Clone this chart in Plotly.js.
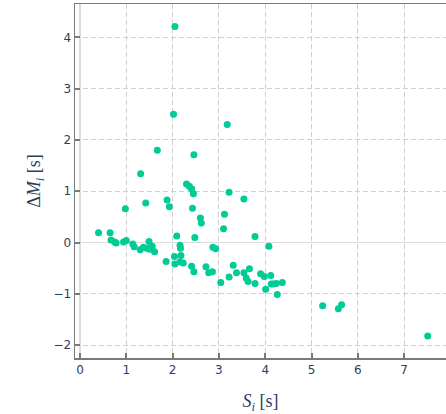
<!DOCTYPE html>
<html>
<head>
<meta charset="utf-8">
<script src="https://cdn.plot.ly/plotly-3.0.1.min.js"></script>
<style>html,body{margin:0;padding:0;background:#fff;}#chart{width:446px;height:414px;}</style>
</head>
<body>
<div id="chart"></div>
<script>
// S_i [s]
const sValues = [0.40,0.65,0.67,0.75,0.78,0.94,1.00,0.98,1.14,1.17,1.30,1.31,1.37,1.42,1.44,1.49,1.51,1.56,1.61,1.67,
  1.86,1.88,1.93,2.02,2.05,2.04,2.05,2.09,2.16,2.17,2.16,2.18,2.23,2.30,2.36,2.41,2.45,2.41,2.46,2.46,
  2.43,2.48,2.60,2.62,2.72,2.78,2.86,2.87,2.93,3.04,3.10,3.12,3.18,3.22,3.22,3.31,3.38,3.54,3.54,3.59,
  3.63,3.66,3.78,3.78,3.90,3.98,4.01,4.08,4.12,4.13,4.18,4.24,4.26,4.37,5.24,5.58,5.65,7.51];
// ΔM_i [s]
const dmValues = [0.19,0.19,0.05,0.01,-0.01,0.01,0.04,0.66,-0.03,-0.08,-0.14,1.34,-0.09,0.77,-0.11,0.02,-0.13,-0.07,-0.18,1.80,
  -0.37,0.83,0.70,2.50,4.21,-0.27,-0.42,0.13,-0.05,-0.11,-0.38,-0.25,-0.40,1.14,1.10,1.05,0.95,-0.46,-0.57,1.71,
  0.67,0.10,0.48,0.38,-0.47,-0.59,-0.57,-0.09,-0.12,-0.78,0.27,0.55,2.30,0.98,-0.67,-0.44,-0.59,0.85,-0.59,-0.69,
  -0.76,-0.51,0.12,-0.80,-0.61,-0.66,-0.91,-0.07,-0.64,-0.81,-0.81,-0.80,-1.01,-0.78,-1.23,-1.29,-1.21,-1.82];
const xTicks = [0,1,2,3,4,5,6,7];
const yTicks = [-2,-1,0,1,2,3,4];

const trace = {
  x: sValues, y: dmValues, type: 'scatter', mode: 'markers',
  marker: {color: '#00cc96', size: 7}
};
const axisCommon = {
  showgrid: true, gridcolor: '#cfcfcf', griddash: '5px,3px', gridwidth: 1,
  zeroline: true, zerolinecolor: '#dcdcdc', zerolinewidth: 1.5,
  showline: true, linecolor: '#7a7a7a', linewidth: 1.5,
  ticks: 'inside', ticklen: 5, tickcolor: '#7a7a7a', tickwidth: 2,
  tickfont: {family: 'DejaVu Sans, Verdana, sans-serif', size: 12, color: '#2a3f5f'}
};
const layout = {
  width: 446, height: 414,
  margin: {l: 75, r: 0, t: 4, b: 56},
  paper_bgcolor: '#fff', plot_bgcolor: '#fff',
  showlegend: false,
  xaxis: Object.assign({}, axisCommon, {
    range: [-0.108, 7.905], tickvals: xTicks, mirror: true,
    title: {text: '<i>S<sub>i</sub></i> [s]', standoff: 18,
      font: {family: 'Liberation Serif, DejaVu Serif, serif', size: 18, color: '#2a3f5f'}}
  }),
  yaxis: Object.assign({}, axisCommon, {
    range: [-2.25, 4.65], tickvals: yTicks, mirror: false,
    title: {text: 'Δ<i>M<sub>i</sub></i> [s]', standoff: 8,
      font: {family: 'Liberation Serif, DejaVu Serif, serif', size: 18, color: '#2a3f5f'}}
  })
};
Plotly.newPlot('chart', [trace], layout, {displayModeBar: false, staticPlot: true});
</script>
</body>
</html>
